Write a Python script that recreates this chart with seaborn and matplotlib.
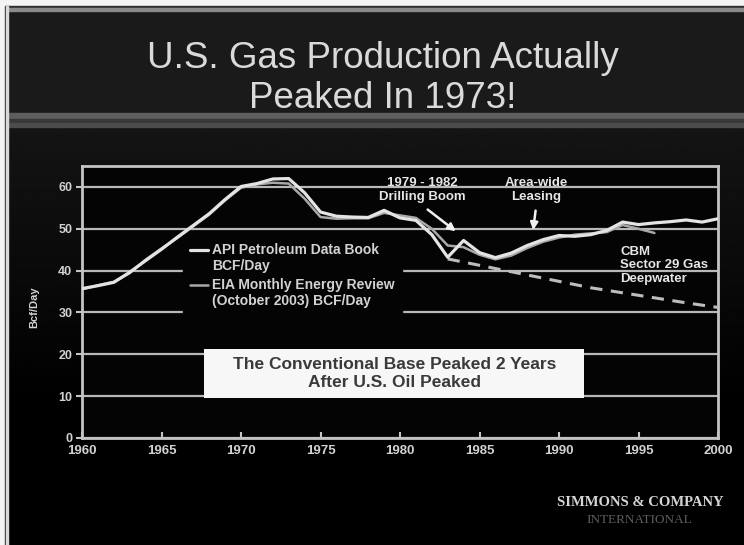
import matplotlib

matplotlib.use("Agg")

import matplotlib.pyplot as plt
import numpy as np
import pandas as pd
import seaborn as sns
from matplotlib.legend_handler import HandlerLine2D
from matplotlib.lines import Line2D
from matplotlib.patches import Rectangle


# U.S. dry gas production, Bcf/day
YEARS = list(range(1960, 2001))
API_BCF_DAY = [
    35.7, 36.4, 37.2, 39.6, 42.4, 45.1, 48.0, 50.8, 53.6, 57.0,
    60.1, 60.8, 61.9, 62.0, 58.6, 54.0, 53.0, 52.8, 52.7, 54.4,
    52.6, 52.0, 48.6, 43.2, 47.2, 44.3, 43.1, 44.2, 46.0, 47.4,
    48.4, 48.2, 48.6, 49.6, 51.6, 51.0, 51.4, 51.7, 52.1, 51.6,
    52.4,
]
EIA_YEARS = list(range(1960, 1997))
EIA_BCF_DAY = [
    35.5, 36.5, 37.3, 39.4, 42.6, 45.3, 47.8, 50.6, 53.4, 56.8,
    59.8, 60.6, 61.0, 60.8, 57.2, 52.8, 52.4, 52.5, 52.5, 53.8,
    53.2, 52.6, 50.0, 46.0, 45.6, 43.8, 42.7, 43.6, 45.4, 46.9,
    47.9, 48.6, 48.9, 49.2, 50.9, 50.0, 49.0,
]
# conventional base decline (dashed)
BASE_YEARS = [1983, 1986, 1989, 1992, 1995, 1998, 2000]
BASE_BCF_DAY = [42.8, 40.5, 38.2, 35.9, 34.1, 32.3, 31.2]

X_TICKS = list(range(1960, 2001, 5))
Y_TICKS = list(range(0, 61, 10))
LEGEND_LABELS = [
    "API Petroleum Data Book\nBCF/Day",
    "EIA Monthly Energy Review\n(October 2003) BCF/Day",
]

TITLE = "U.S. Gas Production Actually\nPeaked In 1973!"
BOX_TEXT = "The Conventional Base Peaked 2 Years\nAfter U.S. Oil Peaked"

FG = "#d2d2d2"
GRID = "#b8b8b8"


class _FirstLineHandler(HandlerLine2D):
    """Put the legend line next to the first text line instead of the middle."""

    def create_artists(self, legend, orig_handle, xdescent, ydescent, width, height, fontsize, trans):
        artists = super().create_artists(legend, orig_handle, xdescent, ydescent, width, height, fontsize, trans)
        for artist in artists:
            artist.set_ydata(np.asarray(artist.get_ydata()) + 0.6 * fontsize)
        return artists


sns.set_theme(style="dark", rc={"axes.facecolor": "#040404", "figure.facecolor": "#000000"})
plt.rcParams["font.family"] = ["Liberation Sans", "DejaVu Sans"]

fig = plt.figure(figsize=(7.44, 5.45), dpi=100)

# slide background drawn in pixel units
bg = fig.add_axes([0, 0, 1, 1], zorder=0)
bg.set_xlim(0, 744)
bg.set_ylim(545, 0)
bg.axis("off")
shade = np.clip(np.linspace(0.08, -0.04, 256), 0, None)[:, None]
bg.imshow(shade, cmap="gray", vmin=0, vmax=1, extent=(8, 744, 545, 127), aspect="auto")
bg.add_patch(Rectangle((8, 8), 736, 105, color="#1a1a1a"))
bg.add_patch(Rectangle((8, 113), 736, 6, color="#5e5e5e"))
bg.add_patch(Rectangle((8, 119), 736, 4, color="#383838"))
bg.add_patch(Rectangle((8, 123), 736, 4, color="#4c4c4c"))
bg.add_patch(Rectangle((0, 0), 744, 6, color="#f4f4f4"))
bg.add_patch(Rectangle((0, 6), 744, 1.5, color="#303030"))
bg.add_patch(Rectangle((8, 8), 736, 3, color="#8a8a8a"))
bg.add_patch(Rectangle((0, 0), 4.5, 545, color="#f4f4f4"))
bg.add_patch(Rectangle((4.5, 6), 1.2, 539, color="#303030"))
bg.add_patch(Rectangle((5.7, 6), 2.0, 539, color="#d8d8d8"))

fig.text(0.515, 1 - 41 / 545, TITLE, ha="center", va="top", fontsize=26.5,
         color="#dadada", linespacing=1.18)

ax = fig.add_axes([82 / 744, 107 / 545, 636 / 744, 272 / 545], zorder=2)

api = pd.DataFrame({"year": YEARS, "bcf_day": API_BCF_DAY})
eia = pd.DataFrame({"year": EIA_YEARS, "bcf_day": EIA_BCF_DAY})
base = pd.DataFrame({"year": BASE_YEARS, "bcf_day": BASE_BCF_DAY})

sns.lineplot(data=eia, x="year", y="bcf_day", ax=ax, color="#a8a8a8", linewidth=1.8,
             label=LEGEND_LABELS[1], zorder=3)
sns.lineplot(data=api, x="year", y="bcf_day", ax=ax, color="#e4e4e4", linewidth=2.3,
             label=LEGEND_LABELS[0], zorder=4)
sns.lineplot(data=base, x="year", y="bcf_day", ax=ax, color="#bdbdbd", linewidth=2.2,
             linestyle=(0, (4, 2.8)), zorder=3)

ax.set_xlim(1960, 2000)
ax.set_ylim(0, 65)
ax.set_xticks(X_TICKS)
ax.set_yticks(Y_TICKS)
ax.set_axisbelow(True)
ax.yaxis.grid(True, color=GRID, linewidth=1.6)
ax.xaxis.grid(False)
for side in ["left", "right", "top", "bottom"]:
    ax.spines[side].set_visible(True)
    ax.spines[side].set_color("#c4c4c4")
    ax.spines[side].set_linewidth(2)

ax.tick_params(axis="x", bottom=True, direction="in", length=4, width=1.5, color="#c4c4c4",
               labelsize=9.5, labelcolor=FG, pad=5)
ax.tick_params(axis="y", left=True, direction="out", length=4, width=1.5, color="#c4c4c4",
               labelsize=9, labelcolor=FG, pad=3)
plt.setp(ax.get_xticklabels() + ax.get_yticklabels(), fontweight="bold")

ax.set_xlabel("")
ax.set_ylabel("Bcf/Day", fontsize=8, fontweight="bold", color=FG)
ax.yaxis.set_label_coords(-0.068, 0.48)

handles, labels = ax.get_legend_handles_labels()
order = [labels.index(lbl) for lbl in LEGEND_LABELS]
leg = ax.legend([handles[i] for i in order], [labels[i] for i in order],
                handler_map={Line2D: _FirstLineHandler()},
                loc="upper left", bbox_to_anchor=(0.1588, 0.743), borderaxespad=0,
                frameon=True, facecolor="#040404", edgecolor="#040404", framealpha=1,
                fancybox=False, prop={"size": 10, "weight": "bold"}, labelcolor=FG,
                handlelength=1.3, handletextpad=0.3, labelspacing=0.35, borderpad=0.5)
leg.set_zorder(5)

note_style = dict(fontsize=9.5, fontweight="bold", color="#e6e6e6", zorder=6)
ax.text(1981.4, 59.2, "1979 - 1982\nDrilling Boom", ha="center", va="center",
        linespacing=1.2, **note_style)
ax.text(1988.55, 59.2, "Area-wide\nLeasing", ha="center", va="center",
        linespacing=1.2, **note_style)
ax.text(1993.84, 41.3, "CBM\nSector 29 Gas\nDeepwater", ha="left", va="center",
        linespacing=1.15, **note_style)

arrow = dict(arrowstyle="-|>", color="#f0f0f0", lw=1.8, mutation_scale=11)
ax.annotate("", xy=(1983.65, 49.0), xytext=(1981.6, 55.0), arrowprops=arrow, zorder=6)
ax.annotate("", xy=(1988.35, 49.0), xytext=(1988.55, 55.0), arrowprops=arrow, zorder=6)

ax.add_patch(Rectangle((1967.7, 9.5), 23.9, 11.7, facecolor="#f7f7f7", edgecolor="none", zorder=6))
ax.text(1979.65, 15.4, BOX_TEXT, ha="center", va="center", fontsize=12.5, fontweight="bold",
        color="#3a3a3a", linespacing=1.25, zorder=7)

fig.text(640 / 744, 1 - 503 / 545, "SIMMONS & COMPANY", ha="center", va="center",
         family=["Liberation Serif", "DejaVu Serif"], fontsize=10.5, fontweight="bold", color="#d6d6d6")
fig.text(639 / 744, 1 - 520 / 545, "INTERNATIONAL", ha="center", va="center",
         family=["Liberation Serif", "DejaVu Serif"], fontsize=9.5, color="#5e5e5e")

fig.savefig("out.png", dpi=100, facecolor=fig.get_facecolor())
